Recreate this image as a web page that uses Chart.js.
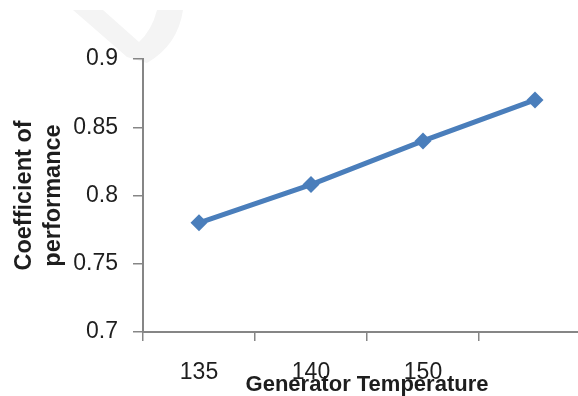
<!DOCTYPE html>
<html>
<head>
<meta charset="utf-8">
<script src="https://cdn.jsdelivr.net/npm/chart.js@4"></script>
<style>
  html, body { margin: 0; padding: 0; background: #fff; overflow: hidden; }
  #wrap { width: 578px; height: 396px; overflow: hidden; }
  canvas { display: block; }
</style>
</head>
<body>
<div id="wrap"><canvas id="c" width="600" height="396"></canvas></div>
<script>
// Generator temperature vs. coefficient of performance
const categories = ['135', '140', '150', ''];
const copValues = [0.78, 0.808, 0.84, 0.87];
const yMin = 0.7;
const yMax = 0.9;
const yStep = 0.05;

const axisGray = '#868686';
const seriesBlue = '#4a7ebb';
const textColor = '#1e1e1e';
const fontFamily = '"Liberation Sans", Arial, sans-serif';

// faint background mark behind the top of the plot
const backdrop = {
  id: 'backdrop',
  beforeDraw(chart) {
    const ctx = chart.ctx;
    ctx.save();
    ctx.fillStyle = '#f4f4f4';
    ctx.beginPath();
    ctx.moveTo(73, 10);
    ctx.lineTo(103, 10);
    ctx.lineTo(139, 42);
    ctx.quadraticCurveTo(152, 30, 157, 10);
    ctx.lineTo(183, 10);
    ctx.quadraticCurveTo(178, 45, 147, 63);
    ctx.lineTo(127, 57);
    ctx.closePath();
    ctx.fill();
    ctx.restore();
  }
};

new Chart(document.getElementById('c'), {
  type: 'line',
  data: {
    labels: categories,
    datasets: [{
      data: copValues,
      borderColor: seriesBlue,
      backgroundColor: seriesBlue,
      borderWidth: 5,
      pointStyle: 'rectRot',
      pointRadius: 8.5,
      pointBackgroundColor: seriesBlue,
      pointBorderColor: seriesBlue,
      pointBorderWidth: 0,
      tension: 0,
      fill: false
    }]
  },
  options: {
    responsive: false,
    animation: false,
    events: [],
    layout: { padding: { top: 59, right: 9, bottom: 0, left: 0 } },
    plugins: {
      legend: { display: false },
      tooltip: { enabled: false }
    },
    scales: {
      x: {
        type: 'category',
        offset: true,
        afterFit(scale) { scale.height = 64; },
        grid: {
          offset: true,
          drawOnChartArea: false,
          drawTicks: true,
          tickLength: 9,
          color: axisGray,
          lineWidth: 1.5
        },
        border: { display: true, color: axisGray, width: 2 },
        ticks: {
          color: textColor,
          padding: 18,
          maxRotation: 0,
          autoSkip: false,
          font: { family: fontFamily, size: 23 }
        },
        title: {
          display: true,
          text: 'Generator Temperature',
          color: textColor,
          padding: { top: 0, bottom: 0 },
          font: { family: fontFamily, size: 22, weight: 'bold', lineHeight: 1 }
        }
      },
      y: {
        min: yMin,
        max: yMax,
        afterFit(scale) { scale.width = 143; },
        grid: {
          drawOnChartArea: false,
          drawTicks: true,
          tickLength: 10,
          color: axisGray,
          lineWidth: 1.5
        },
        border: { display: true, color: axisGray, width: 2 },
        ticks: {
          stepSize: yStep,
          color: textColor,
          padding: 15,
          font: { family: fontFamily, size: 23 },
          callback: (v) => String(+(+v).toFixed(2))
        },
        title: {
          display: true,
          text: ['Coefficient of', 'performance'],
          color: textColor,
          padding: { top: 10, bottom: 0 },
          font: { family: fontFamily, size: 23.5, weight: 'bold', lineHeight: 1.23 }
        }
      }
    }
  },
  plugins: [backdrop]
});
</script>
</body>
</html>
